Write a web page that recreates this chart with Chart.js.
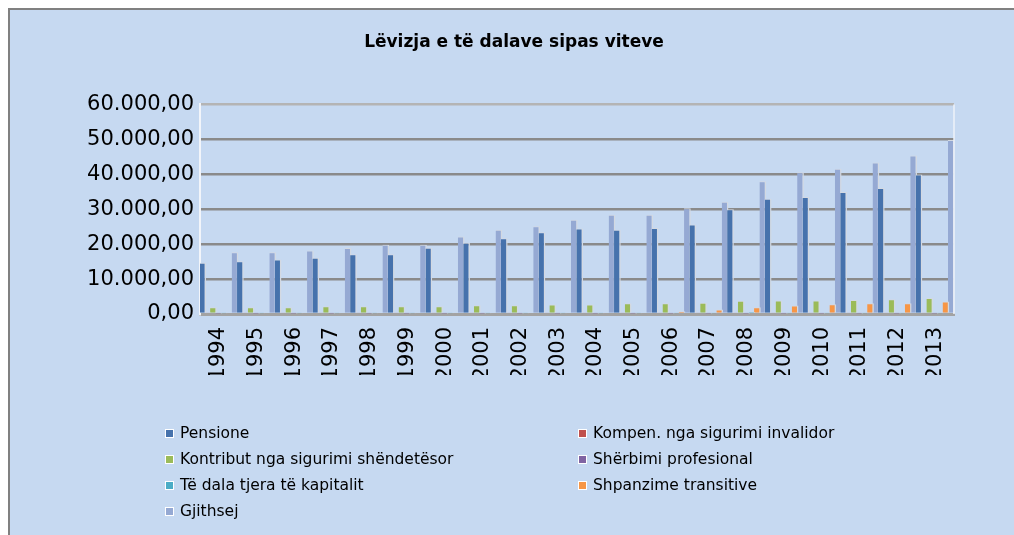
<!DOCTYPE html>
<html>
<head>
<meta charset="utf-8">
<script src="https://cdn.jsdelivr.net/npm/chart.js@4.4.1/dist/chart.umd.min.js"></script>
<style>
  html, body { margin: 0; padding: 0; background: #fff; overflow: hidden; }
  #frame { position: absolute; left: 8px; top: 8px; width: 1020px; height: 540px; background: #c6d9f1; border: 2px solid #808080; }
  #chart { position: absolute; left: 0; top: 0; }
  #legend { position: absolute; left: 165px; top: 420px; display: grid; grid-template-columns: 413px 300px; grid-auto-rows: 26px;
    font: 15.5px "DejaVu Sans", sans-serif; color: #000; }
  #legend div { display: flex; align-items: center; white-space: nowrap; }
  #legend span.box { display: inline-block; width: 7px; height: 7px; border: 1px solid #fff; margin-right: 6px; }
</style>
</head>
<body>
<div id="frame"></div>
<canvas id="chart" width="1014" height="535"></canvas>
<div id="legend"></div>
<script>
const years = ['1994', '1995', '1996', '1997', '1998', '1999', '2000', '2001', '2002', '2003',
  '2004', '2005', '2006', '2007', '2008', '2009', '2010', '2011', '2012', '2013'];
const pensione = [14700, 15100, 15600, 16100, 17100, 17100, 19000, 20400, 21700, 23400,
  24500, 24100, 24600, 25600, 30000, 33000, 33500, 34900, 36100, 39900];
const kompen = [300, 300, 300, 300, 300, 300, 300, 300, 300, 300,
  300, 300, 300, 300, 300, 300, 300, 300, 300, 300];
const kontribut = [1900, 1900, 1900, 2200, 2200, 2200, 2200, 2500, 2500, 2700,
  2700, 3100, 3100, 3200, 3800, 3900, 3900, 4000, 4200, 4600];
const sherbimi = [150, 150, 150, 150, 150, 150, 150, 150, 150, 150,
  150, 150, 150, 150, 150, 150, 150, 150, 150, 150];
const teDala = [200, 200, 200, 200, 200, 200, 200, 200, 200, 200,
  200, 200, 200, 200, 600, 200, 200, 200, 200, 200];
const shpanzime = [0, 0, 0, 0, 0, 0, 0, 0, 0, 0,
  0, 0, 800, 1300, 1900, 2400, 2800, 3100, 3100, 3600];
const gjithsej = [17700, 17700, 18200, 18900, 19800, 19800, 22200, 24100, 25100, 27000,
  28400, 28400, 30300, 32100, 38000, 40600, 41600, 43400, 45400, 49800];
const yTicks = [0, 10000, 20000, 30000, 40000, 50000, 60000];

function fmt(v) {
  const s = String(Math.round(v)).replace(/\B(?=(\d{3})+(?!\d))/g, '.');
  return s + ',00';
}

function ds(label, data, color) {
  return {
    label, data,
    backgroundColor: color,
    borderColor: '#d3d9e2',
    borderWidth: { left: 0, right: 1.5, top: 1, bottom: 0 },
    borderSkipped: 'bottom',
    barPercentage: 1.25,
    categoryPercentage: 1
  };
}

// thin light edge on the back wall's right side
const rightEdge = {
  id: 'rightEdge',
  afterDraw(chart) {
    const { ctx, chartArea } = chart;
    ctx.save();
    ctx.strokeStyle = '#eef2f8';
    ctx.lineWidth = 1.5;
    ctx.beginPath();
    ctx.moveTo(chartArea.right, chartArea.top);
    ctx.lineTo(chartArea.right, chartArea.bottom);
    ctx.stroke();
    ctx.restore();
  }
};

const chart = new Chart(document.getElementById('chart'), {
  type: 'bar',
  data: {
    labels: years,
    datasets: [
      ds('Pensione', pensione, '#4672ac'),
      ds('Kompen. nga sigurimi invalidor', kompen, '#c0504d'),
      ds('Kontribut nga sigurimi shëndetësor', kontribut, '#9bbb59'),
      ds('Shërbimi profesional', sherbimi, '#8064a2'),
      ds('Të dala tjera të kapitalit', teDala, '#4bacc6'),
      ds('Shpanzime transitive', shpanzime, '#f79646'),
      ds('Gjithsej', gjithsej, '#95a9d3')
    ]
  },
  options: {
    responsive: false,
    devicePixelRatio: 1,
    animation: false,
    layout: { padding: { left: 14, right: 0, top: 0, bottom: 160 } },
    scales: {
      x: {
        grid: { display: false },
        border: { color: '#a3a3a3', width: 3 },
        ticks: { color: '#000', font: { family: 'DejaVu Sans', size: 21 }, maxRotation: 90, minRotation: 90, padding: 5, autoSkip: false },
        afterFit: s => { s.height = 61; }
      },
      y: {
        min: 0, max: 60000,
        afterBuildTicks: s => { s.ticks = yTicks.map(v => ({ value: v })); },
        grid: {
          color: c => c.tick && c.tick.value === 60000 ? '#b4b4b4' : '#8a8a8a',
          lineWidth: 2.5,
          drawTicks: false
        },
        border: { color: '#f2f5fa', width: 2 },
        ticks: { color: '#000', font: { family: 'DejaVu Sans', size: 21 }, padding: 6, callback: v => fmt(v) },
        afterFit: s => { s.width = 186; }
      },
      yRight: {
        position: 'right',
        min: 0, max: 60000,
        grid: { display: false },
        border: { display: false },
        ticks: { display: false },
        afterFit: s => { s.width = 60; }
      }
    },
    plugins: {
      legend: { display: false },
      tooltip: { enabled: false },
      title: {
        display: true,
        text: 'Lëvizja e të dalave sipas viteve',
        color: '#000',
        font: { family: 'DejaVu Sans', size: 17, weight: 'bold' },
        padding: { top: 32, bottom: 52 }
      }
    }
  },
  plugins: [rightEdge]
});

const legendEl = document.getElementById('legend');
legendEl.innerHTML = chart.data.datasets.map(d =>
  `<div><span class="box" style="background:${d.backgroundColor}"></span>${d.label}</div>`
).join('');
</script>
</body>
</html>
